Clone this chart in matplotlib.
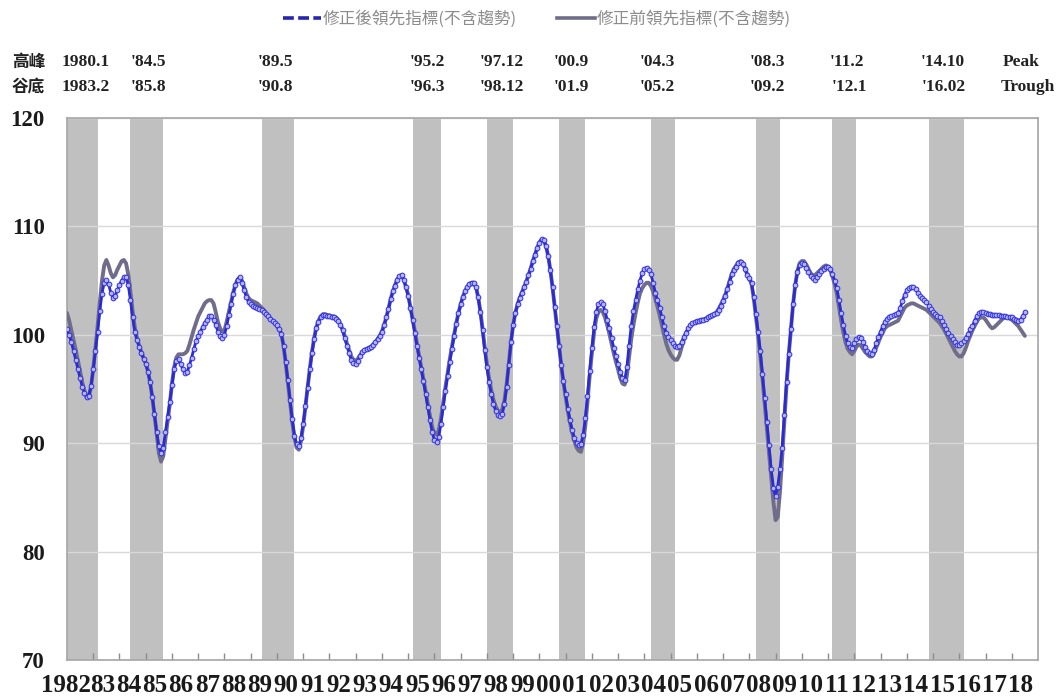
import matplotlib
matplotlib.use('Agg')
import matplotlib.pyplot as plt
from matplotlib.lines import Line2D
import matplotlib.transforms as mtransforms
import numpy as np

# ---------------- data ----------------
start_year = 1982  # first monthly observation: Jan 1982

# 修正後領先指標(不含趨勢) - monthly, Jan 1982 .. Jul 2018
post_rev = [
    100.5, 100.0, 99.3, 98.5, 97.7, 96.8, 96.0, 95.2, 94.6, 94.3, 94.4, 95.3,      # 1982
    96.8, 98.5, 100.3, 102.2, 103.8, 104.8, 105.1, 104.7, 103.9, 103.4, 103.6, 104.1,  # 1983
    104.6, 105.0, 105.3, 105.3, 104.6, 103.2, 101.6, 100.3, 99.5, 98.9, 98.3, 97.8,    # 1984
    97.3, 96.6, 95.6, 94.3, 92.7, 91.0, 89.7, 89.1, 89.6, 91.0, 92.4, 93.8,            # 1985
    95.4, 96.8, 97.6, 97.8, 97.3, 96.8, 96.5, 96.6, 97.2, 97.9, 98.7, 99.4,            # 1986
    99.9, 100.3, 100.7, 101.1, 101.4, 101.7, 101.7, 101.4, 100.9, 100.3, 99.9, 99.7,   # 1987
    100.0, 100.8, 101.8, 102.8, 103.8, 104.6, 105.1, 105.3, 104.8, 104.1, 103.5, 103.0,  # 1988
    102.8, 102.7, 102.6, 102.5, 102.4, 102.3, 102.1, 101.9, 101.7, 101.5, 101.3, 101.1,  # 1989
    100.9, 100.5, 100.1, 99.0, 97.5, 95.8, 94.0, 92.2, 90.7, 89.9, 89.7, 90.5,         # 1990
    91.8, 93.4, 95.1, 96.8, 98.3, 99.6, 100.6, 101.2, 101.6, 101.8, 101.8, 101.7,      # 1991
    101.7, 101.6, 101.6, 101.5, 101.3, 100.9, 100.4, 99.7, 99.0, 98.3, 97.7, 97.4,     # 1992
    97.3, 97.6, 98.0, 98.4, 98.6, 98.7, 98.8, 98.9, 99.1, 99.3, 99.6, 99.9,            # 1993
    100.3, 100.9, 101.6, 102.4, 103.3, 104.0, 104.5, 105.1, 105.4, 105.5, 105.1, 104.4,  # 1994
    103.6, 102.5, 101.4, 100.2, 99.0, 97.9, 96.8, 95.7, 94.5, 93.3, 92.1, 91.0,        # 1995
    90.3, 90.1, 90.6, 91.8, 93.3, 94.8, 96.2, 97.5, 98.7, 99.9, 101.0, 102.0,          # 1996
    102.8, 103.5, 104.0, 104.4, 104.7, 104.8, 104.8, 104.4, 103.5, 102.1, 100.4, 98.6,   # 1997
    97.0, 95.6, 94.5, 93.6, 93.0, 92.6, 92.5, 92.7, 93.6, 95.2, 97.2, 99.3,            # 1998
    100.9, 102.0, 102.8, 103.4, 103.9, 104.4, 104.9, 105.5, 106.1, 106.8, 107.4, 108.0,  # 1999
    108.5, 108.8, 108.7, 108.2, 107.3, 106.0, 104.4, 102.6, 100.8, 99.0, 97.2, 95.7,     # 2000
    94.5, 93.2, 92.1, 91.2, 90.5, 90.0, 89.8, 89.9, 90.8, 92.3, 94.4, 96.7,            # 2001
    98.8, 100.7, 102.1, 102.8, 103.0, 102.8, 102.2, 101.4, 100.6, 99.7, 98.8, 98.0,    # 2002
    97.3, 96.6, 96.0, 95.8, 97.0, 99.0, 100.8, 102.2, 103.2, 104.2, 105.0, 105.7,      # 2003
    106.1, 106.2, 106.0, 105.6, 104.8, 103.9, 103.2, 102.5, 101.6, 100.8, 100.2, 99.8,   # 2004
    99.5, 99.2, 99.0, 98.9, 99.0, 99.3, 99.8, 100.2, 100.6, 100.9, 101.1, 101.2,       # 2005
    101.3, 101.3, 101.4, 101.4, 101.5, 101.6, 101.7, 101.8, 101.9, 102.0, 102.3, 102.7,  # 2006
    103.1, 103.6, 104.2, 104.9, 105.6, 106.0, 106.3, 106.6, 106.7, 106.5, 106.1, 105.5,  # 2007
    105.2, 104.8, 103.5, 101.9, 100.3, 98.5, 96.4, 94.2, 92.0, 89.8, 87.6, 85.9,       # 2008
    85.1, 86.0, 87.6, 89.6, 92.6, 95.6, 98.2, 100.5, 102.8, 104.6, 105.8, 106.4,       # 2009
    106.6, 106.5, 106.2, 105.8, 105.4, 105.2, 105.1, 105.3, 105.6, 105.9, 106.1, 106.3,  # 2010
    106.3, 106.1, 105.6, 105.0, 104.3, 103.2, 102.0, 100.9, 99.9, 99.2, 98.9, 98.8,    # 2011
    99.2, 99.6, 99.8, 99.7, 99.3, 98.9, 98.5, 98.3, 98.2, 98.6, 99.2, 99.8,            # 2012
    100.3, 100.8, 101.2, 101.5, 101.6, 101.7, 101.8, 101.9, 102.0, 102.5, 103.1, 103.7,  # 2013
    104.1, 104.3, 104.4, 104.4, 104.2, 103.9, 103.6, 103.4, 103.2, 103.0, 102.7, 102.4,  # 2014
    102.1, 101.9, 101.7, 101.6, 101.3, 100.9, 100.5, 100.2, 99.9, 99.6, 99.3, 99.1,    # 2015
    99.1, 99.2, 99.4, 99.7, 100.1, 100.5, 100.8, 101.3, 101.7, 102.0, 102.1, 102.1,    # 2016
    102.0, 101.9, 101.9, 101.8, 101.8, 101.8, 101.8, 101.7, 101.7, 101.7, 101.6, 101.6,  # 2017
    101.6, 101.5, 101.4, 101.3, 101.4, 101.7, 102.1,                                   # 2018
]

# 修正前領先指標(不含趨勢)
pre_rev = [
    102.0, 101.3, 100.4, 99.5, 98.6, 97.6, 96.6, 95.6, 94.8, 94.2, 94.3, 95.2,         # 1982
    96.9, 98.8, 100.8, 103.0, 105.0, 106.4, 106.9, 106.4, 105.7, 105.3, 105.5, 106.0,  # 1983
    106.4, 106.8, 106.9, 106.6, 105.6, 104.0, 102.2, 100.7, 99.7, 99.0, 98.4, 97.9,    # 1984
    97.4, 96.7, 95.6, 94.2, 92.6, 90.9, 89.1, 88.3, 88.8, 90.4, 92.0, 93.6,            # 1985
    95.5, 97.0, 97.9, 98.2, 98.2, 98.2, 98.3, 98.5, 99.1, 99.8, 100.5, 101.1,          # 1986
    101.7, 102.1, 102.5, 102.9, 103.1, 103.2, 103.2, 102.9, 102.1, 101.2, 100.6, 100.3,  # 1987
    100.4, 101.2, 102.1, 103.0, 103.9, 104.6, 105.1, 105.3, 105.0, 104.4, 103.8, 103.4,  # 1988
    103.2, 103.1, 103.0, 102.9, 102.7, 102.5, 102.3, 102.0, 101.8, 101.5, 101.3, 101.1,  # 1989
    100.8, 100.5, 100.1, 99.0, 97.4, 95.6, 93.8, 92.0, 90.5, 89.6, 89.4, 90.2,         # 1990
    91.6, 93.3, 95.1, 96.8, 98.4, 99.7, 100.7, 101.3, 101.7, 101.9, 101.9, 101.8,      # 1991
    101.8, 101.7, 101.7, 101.6, 101.4, 101.0, 100.5, 99.9, 99.2, 98.6, 98.0, 97.7,     # 1992
    97.6, 97.8, 98.1, 98.4, 98.6, 98.7, 98.8, 98.9, 99.1, 99.3, 99.6, 99.9,            # 1993
    100.3, 100.9, 101.6, 102.4, 103.3, 104.0, 104.6, 105.1, 105.4, 105.5, 105.1, 104.4,  # 1994
    103.7, 102.6, 101.5, 100.4, 99.2, 98.1, 97.0, 95.9, 94.8, 93.6, 92.5, 91.5,        # 1995
    90.9, 90.8, 91.2, 92.3, 93.7, 95.1, 96.4, 97.7, 98.9, 100.0, 101.1, 102.0,         # 1996
    102.8, 103.5, 104.0, 104.4, 104.7, 104.8, 104.8, 104.4, 103.5, 102.2, 100.6, 98.9,   # 1997
    97.3, 96.0, 94.9, 94.0, 93.4, 93.0, 92.9, 93.1, 93.9, 95.4, 97.3, 99.3,            # 1998
    100.9, 102.0, 102.8, 103.4, 103.9, 104.4, 104.9, 105.5, 106.1, 106.8, 107.4, 108.0,  # 1999
    108.5, 108.8, 108.7, 108.2, 107.3, 106.0, 104.4, 102.6, 100.8, 99.0, 97.2, 95.6,     # 2000
    94.3, 93.0, 91.9, 91.0, 90.2, 89.6, 89.3, 89.2, 90.0, 91.6, 93.8, 96.2,            # 2001
    98.3, 100.2, 101.5, 102.1, 102.3, 102.1, 101.6, 100.9, 100.1, 99.2, 98.3, 97.5,    # 2002
    96.8, 96.0, 95.5, 95.4, 96.2, 97.9, 99.6, 100.9, 102.0, 103.0, 103.8, 104.3,       # 2003
    104.6, 104.8, 104.8, 104.5, 104.0, 103.3, 102.6, 101.8, 100.9, 100.0, 99.2, 98.6,  # 2004
    98.2, 97.9, 97.7, 97.7, 98.1, 98.8, 99.5, 100.1, 100.5, 100.8, 101.0, 101.1,       # 2005
    101.2, 101.3, 101.4, 101.4, 101.5, 101.6, 101.7, 101.8, 101.9, 102.1, 102.4, 102.8,  # 2006
    103.2, 103.7, 104.3, 105.0, 105.6, 106.1, 106.4, 106.7, 106.8, 106.6, 106.2, 105.6,  # 2007
    105.2, 104.7, 103.4, 101.7, 100.0, 98.1, 96.0, 93.7, 91.4, 89.1, 86.8, 84.6,       # 2008
    82.9, 83.2, 85.5, 88.6, 92.0, 95.3, 98.1, 100.5, 102.8, 104.6, 105.9, 106.6,       # 2009
    106.8, 106.8, 106.5, 106.1, 105.7, 105.5, 105.5, 105.7, 105.9, 106.1, 106.3, 106.4,  # 2010
    106.3, 106.0, 105.4, 104.7, 103.8, 102.6, 101.3, 100.2, 99.3, 98.7, 98.4, 98.2,    # 2011
    98.5, 98.9, 99.1, 99.0, 98.7, 98.4, 98.2, 98.0, 98.0, 98.3, 98.8, 99.3,            # 2012
    99.8, 100.2, 100.6, 100.8, 100.9, 101.0, 101.1, 101.2, 101.3, 101.7, 102.1, 102.5,  # 2013
    102.7, 102.8, 102.9, 102.9, 102.8, 102.7, 102.6, 102.5, 102.4, 102.3, 102.1, 101.9,  # 2014
    101.7, 101.5, 101.3, 101.1, 100.8, 100.5, 100.1, 99.7, 99.3, 98.9, 98.5, 98.2,     # 2015
    98.0, 98.0, 98.3, 98.8, 99.4, 99.9, 100.4, 100.8, 101.2, 101.5, 101.6, 101.6,      # 2016
    101.4, 101.1, 100.8, 100.6, 100.7, 100.9, 101.1, 101.3, 101.5, 101.6, 101.6, 101.5,  # 2017
    101.4, 101.2, 101.0, 100.8, 100.5, 100.2, 99.9,                                    # 2018
]

# business-cycle reference dates (year, month)
peaks = [(1980, 1), (1984, 5), (1989, 5), (1995, 2), (1997, 12), (2000, 9),
         (2004, 3), (2008, 3), (2011, 2), (2014, 10)]
troughs = [(1983, 2), (1985, 8), (1990, 8), (1996, 3), (1998, 12), (2001, 9),
           (2005, 2), (2009, 2), (2012, 1), (2016, 2)]
peak_labels = ["1980.1", "'84.5", "'89.5", "'95.2", "'97.12", "'00.9",
               "'04.3", "'08.3", "'11.2", "'14.10"]
trough_labels = ["1983.2", "'85.8", "'90.8", "'96.3", "'98.12", "'01.9",
                 "'05.2", "'09.2", "'12.1", "'16.02"]
year_labels = ["1982", "83", "84", "85", "86", "87", "88", "89", "90", "91", "92",
               "93", "94", "95", "96", "97", "98", "99", "00", "01", "02", "03",
               "04", "05", "06", "07", "08", "09", "10", "11", "12", "13", "14",
               "15", "16", "17", "18"]
series_names = ["修正後領先指標(不含趨勢)", "修正前領先指標(不含趨勢)"]

# label positions (in years along the time axis)
peak_label_x = [1981.80, 1984.43, 1989.27, 1995.05, 1997.72, 2000.54,
                2003.83, 2008.01, 2011.08, 2014.52]
trough_label_x = [1981.80, 1984.43, 1989.27, 1995.05, 1997.72, 2000.54,
                  2003.83, 2008.01, 2011.12, 2014.58]

# ---------------- figure ----------------
W, H = 1063, 697
fig = plt.figure(figsize=(W / 100, H / 100), dpi=100)
ax = fig.add_axes([67 / W, 1 - 660 / H, (1038 - 67) / W, (660 - 118) / H])

serif = 'Liberation Serif'
cjk = 'Noto Sans CJK TC'

t_post = start_year + np.arange(len(post_rev)) / 12.0
t_pre = start_year + np.arange(len(pre_rev)) / 12.0

x0, x1 = 1982.0, 2019.0
ax.set_xlim(x0, x1)
ax.set_ylim(70, 120)

# recession shading
for (py, pm), (ty, tm) in zip(peaks, troughs):
    a = max(py + pm / 12.0, x0)
    b = ty + tm / 12.0
    ax.axvspan(a, b, color='#c0c0c0', lw=0, zorder=0)

# grid
ax.set_yticks([70, 80, 90, 100, 110, 120])
ax.yaxis.grid(True, color='#d9d9d9', lw=1.0, zorder=0.5)
ax.set_axisbelow(True)

# lines
ax.plot(t_pre, pre_rev, color='#6f6d8a', lw=2.8, zorder=3, solid_capstyle='round')
ax.plot(t_post, post_rev, color='#2a2ad6', lw=2.0, zorder=4,
        marker='o', ms=3.4, mfc='#b4b4ff', mec='#2f2fe0', mew=0.7)

# spines
for s in ['left', 'bottom', 'right', 'top']:
    ax.spines[s].set_color('#a6a6a6')
    ax.spines[s].set_linewidth(1.2)

# y labels
ax.tick_params(axis='y', length=0, pad=16)
for lab in ax.get_yticklabels():
    lab.set_fontfamily(serif)
    lab.set_fontweight('bold')
    lab.set_fontsize(16.5)
    lab.set_color('#1a1a1a')

# x ticks: minor year boundaries, labels via major
ax.set_xticks(np.arange(1983, 2019), minor=True)
ax.tick_params(axis='x', which='minor', direction='in', length=5, color='#8c8c8c', width=1)
ax.set_xticks(np.arange(1983, 2019) + 0.35)
ax.set_xticklabels(year_labels[1:])
ax.tick_params(axis='x', which='major', length=0, pad=10)
for lab in ax.get_xticklabels():
    lab.set_fontfamily(serif)
    lab.set_fontweight('bold')
    lab.set_fontsize(18)
    lab.set_color('#1a1a1a')
xlab_trans = mtransforms.blended_transform_factory(ax.transData, ax.transAxes)
ax.text(1982.9, 0, year_labels[0], transform=mtransforms.offset_copy(
    xlab_trans, fig=fig, y=-10, units='points'), ha='right', va='top',
    fontfamily=serif, fontweight='bold', fontsize=18, color='#1a1a1a', clip_on=False)

# peak / trough annotation rows
row_trans = mtransforms.blended_transform_factory(ax.transData, fig.transFigure)
y_row1 = 1 - 62 / H
y_row2 = 1 - 87 / H
fig.text(12 / W, y_row1, "高峰", fontfamily=cjk, fontweight='bold', fontsize=12,
         va='center', ha='left', color='#222222')
fig.text(12 / W, y_row2, "谷底", fontfamily=cjk, fontweight='bold', fontsize=12,
         va='center', ha='left', color='#222222')
for lx, lab in zip(peak_label_x, peak_labels):
    ax.text(lx, y_row1, lab, transform=row_trans, fontfamily=serif, fontweight='bold',
            fontsize=12.5, va='center', ha='left', color='#222222', clip_on=False)
for lx, lab in zip(trough_label_x, trough_labels):
    ax.text(lx, y_row2, lab, transform=row_trans, fontfamily=serif, fontweight='bold',
            fontsize=12.5, va='center', ha='left', color='#222222', clip_on=False)
fig.text(1003 / W, y_row1, "Peak", fontfamily=serif, fontweight='bold', fontsize=12.5,
         va='center', ha='left', color='#222222')
fig.text(1001 / W, y_row2, "Trough", fontfamily=serif, fontweight='bold', fontsize=12.5,
         va='center', ha='left', color='#222222')

# legend
handles = [Line2D([0], [0], color='#2626b0', lw=2.6, ls=(0, (3, 1.2))),
           Line2D([0], [0], color='#6f6d8a', lw=2.6)]
leg = fig.legend(handles, series_names, loc='center', bbox_to_anchor=(537 / W, 1 - 19 / H),
                 ncol=2, frameon=False, handlelength=2.3, handletextpad=0.1,
                 columnspacing=2.4, prop={'family': cjk, 'size': 12})
for txt in leg.get_texts():
    txt.set_color('#8c8c8c')

fig.savefig('out.png', dpi=100)
